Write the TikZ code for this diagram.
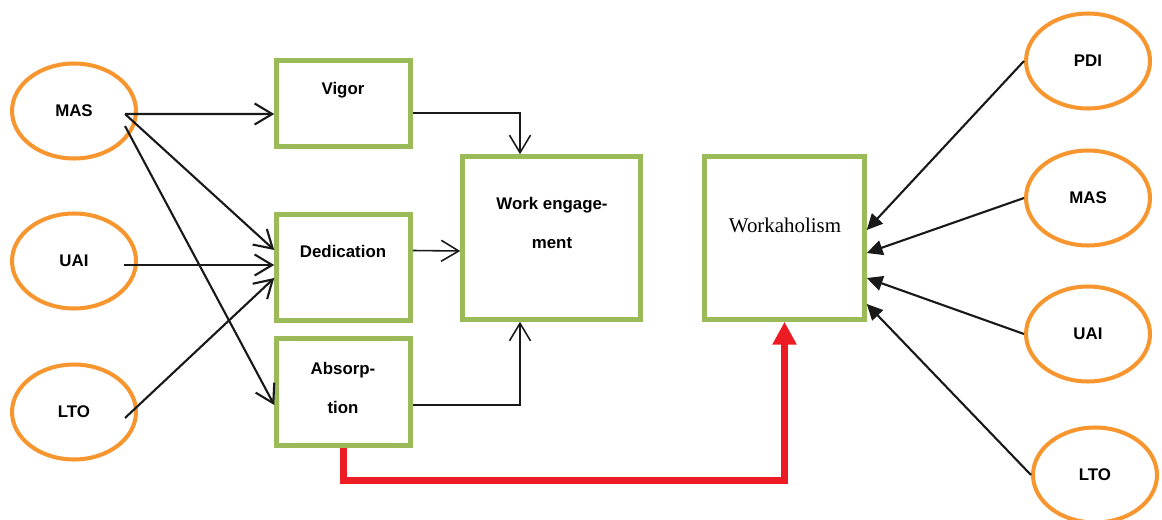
\documentclass[tikz,border=0pt]{standalone}
\usepackage{fontspec}
\setmainfont{Liberation Serif}
\setsansfont{Liberation Sans}
\usetikzlibrary{positioning,shapes.geometric,arrows.meta,calc}
\definecolor{boxgreen}{HTML}{9BBB59}
\definecolor{ovalorange}{HTML}{F7962F}
\definecolor{pathred}{HTML}{ED1C24}

\begin{document}
\begin{tikzpicture}[
        x=0.02cm, y=-0.02cm,
        factor/.style={ellipse, draw=ovalorange, line width=2.3pt, minimum width=2.48cm, minimum height=1.9cm, font=\sffamily\bfseries\fontsize{9.6}{11}\selectfont},
        dim/.style={rectangle, draw=boxgreen, line width=2.6pt, minimum width=2.68cm},
        big/.style={rectangle, draw=boxgreen, line width=2.6pt, minimum height=3.26cm},
        lbl/.style={align=center, font=\sffamily\bfseries\fontsize{9.6}{22.7}\selectfont},
        link/.style={-{Straight Barb[length=10pt,width=12pt]}, line width=1.2pt, black!90},
        feed/.style={-{Straight Barb[length=10pt,width=12pt]}, line width=0.9pt, black!90},
        pull/.style={-{Triangle[length=9pt,width=8.5pt]}, line width=1.2pt, black!90},
        redpath/.style={-{Triangle[length=13pt,width=13pt]}, line width=4pt, pathred}
    ]
    \useasboundingbox (0,0) rectangle (1162,520);

    % Left side - cultural dimensions
    \node[factor] (masL) at (74, 111) {MAS};
    \node[factor] (uaiL) at (74, 261) {UAI};
    \node[factor] (ltoL) at (74, 412) {LTO};

    % Engagement facets
    \node[dim, minimum height=1.72cm] (vigor) at (343.5, 103.5) {};
    \node[dim, minimum height=2.12cm] (ded) at (343.5, 267.5) {};
    \node[dim, minimum height=2.14cm] (abs) at (343.5, 392) {};
    \node[lbl] (vigorT) at (343, 90) {Vigor};
    \node[lbl] (dedT) at (343, 251) {Dedication};
    \node[lbl] (absT) at (343, 388) {Absorp-\\tion};

    % Outcomes
    \node[big, minimum width=3.56cm] (we) at (551.5, 238) {};
    \node[big, minimum width=3.2cm] (work) at (784.5, 238) {};
    \node[lbl] (weT) at (552, 223) {Work engage-\\ment};
    \node[font=\fontsize{11.9}{14}\selectfont] (workT) at (785, 225) {Workaholism};

    % Right side - cultural dimensions
    \node[factor] (pdiR) at (1088, 61) {PDI};
    \node[factor] (masR) at (1088, 198) {MAS};
    \node[factor] (uaiR) at (1088, 334) {UAI};
    \node[factor] (ltoR) at (1095, 475) {LTO};

    \draw[link] ($(masL)+(51,3)$) -- ($(vigor.west)+(0,10.5)$);
    \draw[link] ($(masL)+(51,3)$) -- ($(ded.west)+(0,-17.5)$);
    \draw[link] ($(masL)+(51,15)$) -- ($(abs.west)+(0,13)$);
    \draw[link] ($(uaiL)+(50,4)$) -- ($(ded.west)+(0,-2.5)$);
    \draw[link] ($(ltoL)+(51,6)$) -- ($(ded.west)+(0,10.5)$);

    \draw[feed] ($(vigor.east)+(0,9.5)$) -| ($(we.north)+(-31.5,0)$);
    \draw[feed] ($(ded.east)+(0,-17)$) -- ($(we.west)+(0,13)$);
    \draw[feed] ($(abs.east)+(0,13)$) -| ($(we.south)+(-31.5,0)$);

    \draw[redpath] (abs.south) -- ++(0,33) -| (work.south);

    \draw[pull] (pdiR.west) -- ($(work.east)+(0,-8)$);
    \draw[pull] (masR.west) -- ($(work.east)+(0,15)$);
    \draw[pull] (uaiR.west) -- ($(work.east)+(0,40)$);
    \draw[pull] (ltoR.west) -- ($(work.east)+(0,66)$);
\end{tikzpicture}
\end{document}
